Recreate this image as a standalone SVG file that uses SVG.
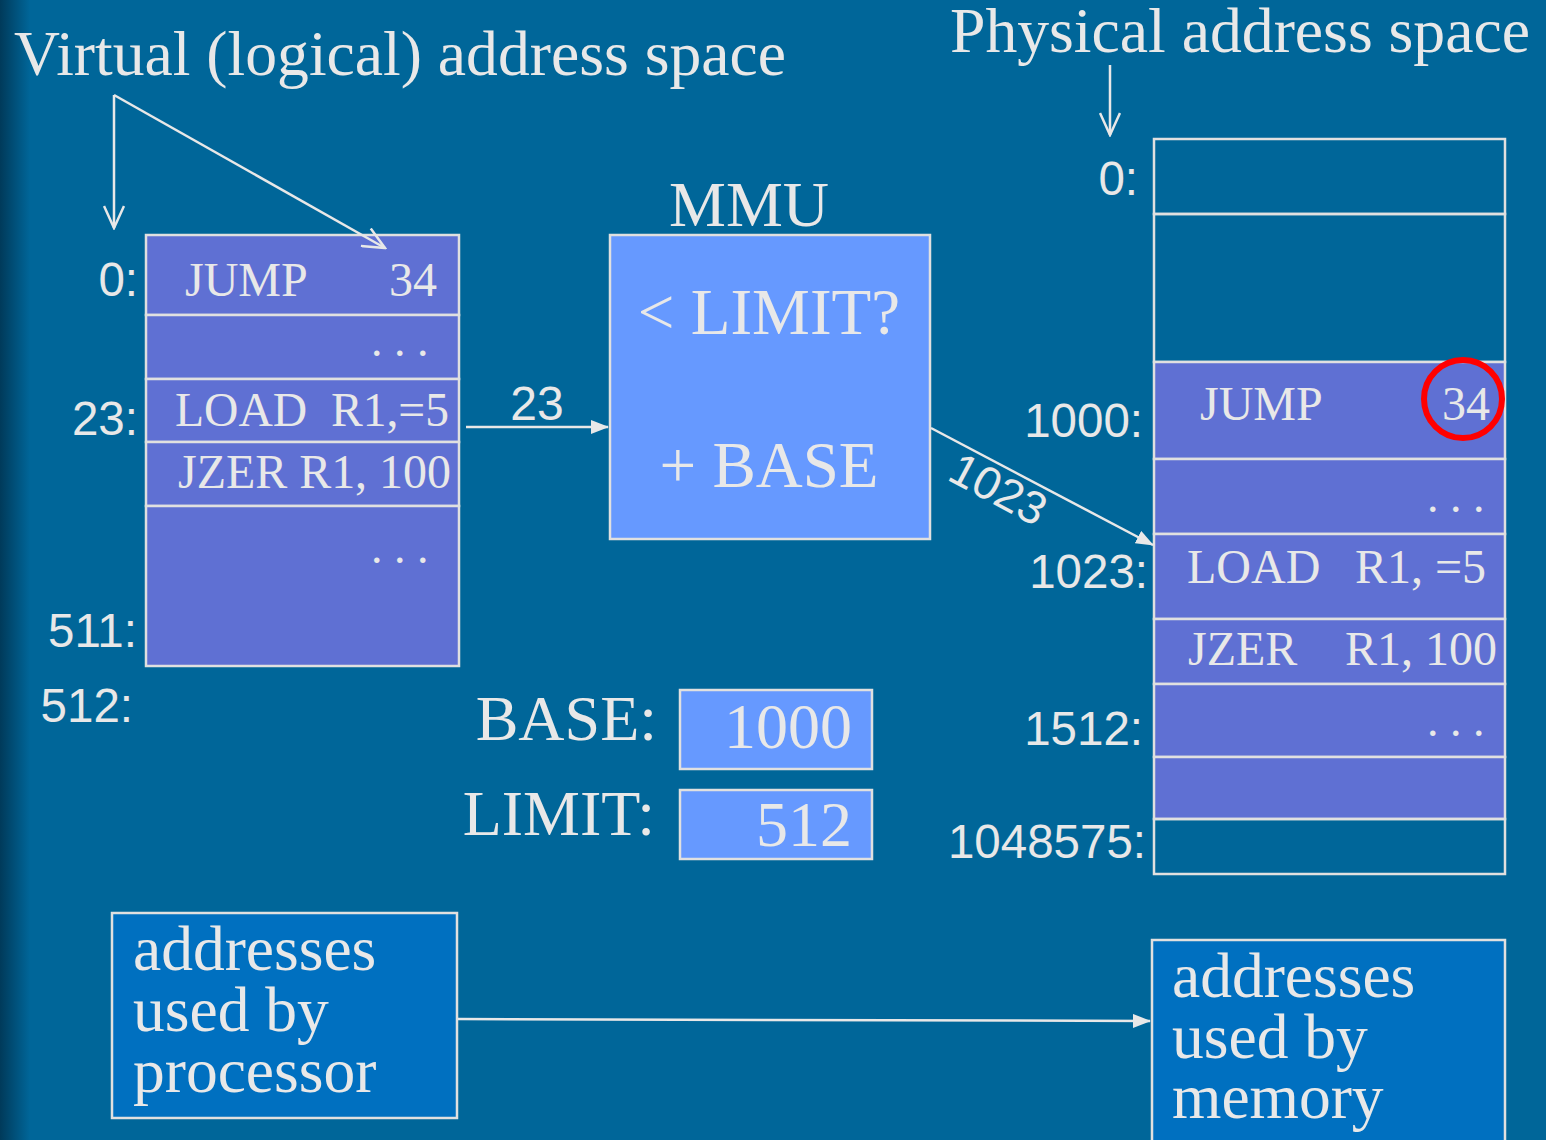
<svg xmlns="http://www.w3.org/2000/svg" width="1546" height="1140" viewBox="0 0 1546 1140">
<defs>
<linearGradient id="edge" x1="0" y1="0" x2="30" y2="0" gradientUnits="userSpaceOnUse">
<stop offset="0" stop-color="#003a5a"/>
<stop offset="1" stop-color="#006699"/>
</linearGradient>
<marker id="fill" markerWidth="18" markerHeight="14" refX="17" refY="7" orient="auto" markerUnits="userSpaceOnUse">
<path d="M0,0 L18,7 L0,14 Z" fill="#e8e8e8"/>
</marker>
<marker id="open" markerWidth="26" markerHeight="22" refX="24" refY="11" orient="auto" markerUnits="userSpaceOnUse">
<path d="M2,1 L24,11 L2,21" fill="none" stroke="#e8e8e8" stroke-width="2.5"/>
</marker>
</defs>
<style>
.serif{font-family:"Liberation Serif","Times New Roman",serif;fill:#e8e8e8}
.sans{font-family:"Liberation Sans",Arial,sans-serif;fill:#e8e8e8}
.cell{stroke:#e0e0e0;stroke-width:2.5}
.purple{fill:#5f70d3}
.blue{fill:#6699ff}
.line{stroke:#e8e8e8;stroke-width:2.5;fill:none}
.big{font-size:64px}
.mid{font-size:48px}
.lab{font-size:47.5px}
.box{font-size:63.5px}
</style>
<rect width="1546" height="1140" fill="#006699"/>
<rect width="30" height="1140" fill="url(#edge)"/>

<g id="titles">
<text class="serif big" x="14" y="75" textLength="772" lengthAdjust="spacingAndGlyphs">Virtual (logical) address space</text>
<text class="serif big" x="950" y="52" textLength="580" lengthAdjust="spacingAndGlyphs">Physical address space</text>
</g>

<g id="virtual-table">
<rect class="cell purple" x="146" y="235" width="313" height="80"/>
<rect class="cell purple" x="146" y="315" width="313" height="64"/>
<rect class="cell purple" x="146" y="379" width="313" height="63"/>
<rect class="cell purple" x="146" y="442" width="313" height="64"/>
<rect class="cell purple" x="146" y="506" width="313" height="160"/>
<text class="serif mid" x="185" y="296">JUMP</text>
<text class="serif mid" x="437" y="296" text-anchor="end">34</text>
<text class="serif" x="371" y="356" font-size="46">. . .</text>
<text class="serif mid" x="175" y="426" xml:space="preserve" textLength="274" lengthAdjust="spacingAndGlyphs">LOAD  R1,=5</text>
<text class="serif mid" x="178" y="488" textLength="273" lengthAdjust="spacingAndGlyphs">JZER R1, 100</text>
<text class="serif" x="371" y="563" font-size="46">. . .</text>
</g>

<g id="virtual-labels">
<text class="sans lab" x="138" y="296" text-anchor="end">0:</text>
<text class="sans lab" x="138" y="435" text-anchor="end">23:</text>
<text class="sans lab" x="137" y="647" text-anchor="end">511:</text>
<text class="sans lab" x="133" y="722" text-anchor="end">512:</text>
</g>

<g id="mmu">
<text class="serif big" x="749" y="226" text-anchor="middle">MMU</text>
<rect class="cell blue" x="610" y="235" width="320" height="304"/>
<text class="serif" x="769" y="334" font-size="65" text-anchor="middle">&lt; LIMIT?</text>
<text class="serif" x="769" y="487" font-size="65" text-anchor="middle">+ BASE</text>
</g>

<g id="registers">
<text class="serif big" x="657" y="740" text-anchor="end">BASE:</text>
<rect class="cell blue" x="680" y="690" width="192" height="79"/>
<text class="serif big" x="852" y="748" text-anchor="end">1000</text>
<text class="serif big" x="655" y="835" text-anchor="end">LIMIT:</text>
<rect class="cell blue" x="680" y="790" width="192" height="69"/>
<text class="serif big" x="852" y="846" text-anchor="end">512</text>
</g>

<g id="physical-table">
<rect class="cell" fill="none" x="1154" y="139" width="351" height="75"/>
<rect class="cell" fill="none" x="1154" y="214" width="351" height="148"/>
<rect class="cell purple" x="1154" y="362" width="351" height="97"/>
<rect class="cell purple" x="1154" y="459" width="351" height="75"/>
<rect class="cell purple" x="1154" y="534" width="351" height="85"/>
<rect class="cell purple" x="1154" y="619" width="351" height="65"/>
<rect class="cell purple" x="1154" y="684" width="351" height="73"/>
<rect class="cell purple" x="1154" y="757" width="351" height="62"/>
<rect class="cell" fill="none" x="1154" y="819" width="351" height="55"/>
<text class="serif mid" x="1200" y="420">JUMP</text>
<text class="serif mid" x="1442" y="420">34</text>
<text class="serif" x="1427" y="512" font-size="46">. . .</text>
<text class="serif mid" x="1187" y="583">LOAD</text>
<text class="serif mid" x="1355" y="583">R1, =5</text>
<text class="serif mid" x="1188" y="665">JZER</text>
<text class="serif mid" x="1345" y="665">R1, 100</text>
<text class="serif" x="1427" y="736" font-size="46">. . .</text>
<circle cx="1463" cy="399" r="39" fill="none" stroke="#ff0000" stroke-width="6"/>
</g>

<g id="physical-labels">
<text class="sans lab" x="1138" y="195" text-anchor="end">0:</text>
<text class="sans lab" x="1143" y="437" text-anchor="end">1000:</text>
<text class="sans lab" x="1148" y="588" text-anchor="end">1023:</text>
<text class="sans lab" x="1143" y="745" text-anchor="end">1512:</text>
<text class="sans lab" x="1146" y="858" text-anchor="end">1048575:</text>
</g>

<g id="box-processor">
<rect class="cell" fill="#0070c0" x="112" y="913" width="345" height="205"/>
<text class="serif box" x="133" y="970">addresses</text>
<text class="serif box" x="133" y="1031">used by</text>
<text class="serif box" x="133" y="1092">processor</text>
</g>

<g id="box-memory">
<rect class="cell" fill="#0070c0" x="1152" y="940" width="353" height="210"/>
<text class="serif box" x="1172" y="997">addresses</text>
<text class="serif box" x="1172" y="1058">used by</text>
<text class="serif box" x="1172" y="1118">memory</text>
</g>

<g id="connectors">
<polyline class="line" points="114,95 385,248" marker-end="url(#open)"/>
<line class="line" x1="114" y1="95" x2="114" y2="228" marker-end="url(#open)"/>
<line class="line" x1="1110" y1="65" x2="1110" y2="135" marker-end="url(#open)"/>
<line class="line" x1="466" y1="427" x2="608" y2="427" marker-end="url(#fill)"/>
<text class="sans" x="537" y="420" font-size="48" text-anchor="middle">23</text>
<line class="line" x1="931" y1="428" x2="1153" y2="545" marker-end="url(#fill)"/>
<text class="sans" x="0" y="0" font-size="46" text-anchor="middle" transform="translate(991,503) rotate(28)">1023</text>
<line class="line" x1="458" y1="1019" x2="1150" y2="1021" marker-end="url(#fill)"/>
</g>
</svg>
